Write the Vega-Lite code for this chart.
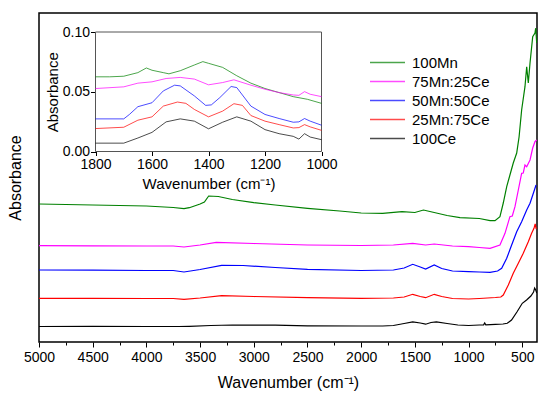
{
  "$schema": "https://vega.github.io/schema/vega-lite/v6.json",
  "width": 498,
  "height": 329,
  "autosize": "none",
  "padding": {"left": 39, "top": 13, "right": 13, "bottom": 59},
  "background": "white",
  "config": {
    "font": "Liberation Sans",
    "view": {"stroke": "black", "strokeWidth": 1.5},
    "axis": {
      "grid": false,
      "labelFontSize": 14,
      "labelColor": "black",
      "titleFontSize": 16,
      "titleFontWeight": "normal",
      "titleColor": "black",
      "tickColor": "black",
      "labelFlush": false,
      "labelOverlap": false
    },
    "legend": {
      "orient": "none",
      "legendX": 341,
      "legendY": 42,
      "padding": 0,
      "symbolType": "M-3.5,0L3.5,0",
      "symbolSize": 100,
      "symbolStrokeWidth": 1.5,
      "symbolFillColor": "transparent",
      "labelFontSize": 15,
      "labelColor": "black",
      "labelOffset": 17,
      "rowPadding": 3
    }
  },
  "datasets": {
    "main": [
      {"sample": "100Ce", "wavenumber": 5000, "absorbance": 0.155},
      {"sample": "100Ce", "wavenumber": 4500, "absorbance": 0.157},
      {"sample": "100Ce", "wavenumber": 4000, "absorbance": 0.155},
      {"sample": "100Ce", "wavenumber": 3700, "absorbance": 0.155},
      {"sample": "100Ce", "wavenumber": 3600, "absorbance": 0.157},
      {"sample": "100Ce", "wavenumber": 3400, "absorbance": 0.165},
      {"sample": "100Ce", "wavenumber": 3200, "absorbance": 0.170},
      {"sample": "100Ce", "wavenumber": 2800, "absorbance": 0.168},
      {"sample": "100Ce", "wavenumber": 2500, "absorbance": 0.162},
      {"sample": "100Ce", "wavenumber": 2000, "absorbance": 0.160},
      {"sample": "100Ce", "wavenumber": 1800, "absorbance": 0.160},
      {"sample": "100Ce", "wavenumber": 1700, "absorbance": 0.165},
      {"sample": "100Ce", "wavenumber": 1600, "absorbance": 0.185},
      {"sample": "100Ce", "wavenumber": 1520, "absorbance": 0.202},
      {"sample": "100Ce", "wavenumber": 1450, "absorbance": 0.190},
      {"sample": "100Ce", "wavenumber": 1400, "absorbance": 0.178},
      {"sample": "100Ce", "wavenumber": 1350, "absorbance": 0.195},
      {"sample": "100Ce", "wavenumber": 1300, "absorbance": 0.202},
      {"sample": "100Ce", "wavenumber": 1200, "absorbance": 0.185},
      {"sample": "100Ce", "wavenumber": 1100, "absorbance": 0.170},
      {"sample": "100Ce", "wavenumber": 1000, "absorbance": 0.165},
      {"sample": "100Ce", "wavenumber": 900, "absorbance": 0.170},
      {"sample": "100Ce", "wavenumber": 860, "absorbance": 0.172},
      {"sample": "100Ce", "wavenumber": 850, "absorbance": 0.190},
      {"sample": "100Ce", "wavenumber": 840, "absorbance": 0.172},
      {"sample": "100Ce", "wavenumber": 750, "absorbance": 0.177},
      {"sample": "100Ce", "wavenumber": 680, "absorbance": 0.180},
      {"sample": "100Ce", "wavenumber": 640, "absorbance": 0.187},
      {"sample": "100Ce", "wavenumber": 600, "absorbance": 0.220},
      {"sample": "100Ce", "wavenumber": 550, "absorbance": 0.300},
      {"sample": "100Ce", "wavenumber": 500, "absorbance": 0.387},
      {"sample": "100Ce", "wavenumber": 460, "absorbance": 0.420},
      {"sample": "100Ce", "wavenumber": 420, "absorbance": 0.460},
      {"sample": "100Ce", "wavenumber": 395, "absorbance": 0.500},
      {"sample": "100Ce", "wavenumber": 385, "absorbance": 0.540},
      {"sample": "100Ce", "wavenumber": 375, "absorbance": 0.520},
      {"sample": "100Ce", "wavenumber": 365, "absorbance": 0.490},

      {"sample": "25Mn:75Ce", "wavenumber": 5000, "absorbance": 0.437},
      {"sample": "25Mn:75Ce", "wavenumber": 4500, "absorbance": 0.437},
      {"sample": "25Mn:75Ce", "wavenumber": 4000, "absorbance": 0.435},
      {"sample": "25Mn:75Ce", "wavenumber": 3750, "absorbance": 0.435},
      {"sample": "25Mn:75Ce", "wavenumber": 3650, "absorbance": 0.427},
      {"sample": "25Mn:75Ce", "wavenumber": 3500, "absorbance": 0.440},
      {"sample": "25Mn:75Ce", "wavenumber": 3300, "absorbance": 0.463},
      {"sample": "25Mn:75Ce", "wavenumber": 3000, "absorbance": 0.455},
      {"sample": "25Mn:75Ce", "wavenumber": 2500, "absorbance": 0.443},
      {"sample": "25Mn:75Ce", "wavenumber": 2000, "absorbance": 0.437},
      {"sample": "25Mn:75Ce", "wavenumber": 1700, "absorbance": 0.440},
      {"sample": "25Mn:75Ce", "wavenumber": 1600, "absorbance": 0.450},
      {"sample": "25Mn:75Ce", "wavenumber": 1520, "absorbance": 0.477},
      {"sample": "25Mn:75Ce", "wavenumber": 1450, "absorbance": 0.455},
      {"sample": "25Mn:75Ce", "wavenumber": 1400, "absorbance": 0.443},
      {"sample": "25Mn:75Ce", "wavenumber": 1320, "absorbance": 0.477},
      {"sample": "25Mn:75Ce", "wavenumber": 1250, "absorbance": 0.455},
      {"sample": "25Mn:75Ce", "wavenumber": 1150, "absorbance": 0.435},
      {"sample": "25Mn:75Ce", "wavenumber": 1000, "absorbance": 0.430},
      {"sample": "25Mn:75Ce", "wavenumber": 900, "absorbance": 0.435},
      {"sample": "25Mn:75Ce", "wavenumber": 750, "absorbance": 0.445},
      {"sample": "25Mn:75Ce", "wavenumber": 700, "absorbance": 0.450},
      {"sample": "25Mn:75Ce", "wavenumber": 677, "absorbance": 0.470},
      {"sample": "25Mn:75Ce", "wavenumber": 630, "absorbance": 0.570},
      {"sample": "25Mn:75Ce", "wavenumber": 584, "absorbance": 0.687},
      {"sample": "25Mn:75Ce", "wavenumber": 537, "absorbance": 0.787},
      {"sample": "25Mn:75Ce", "wavenumber": 491, "absorbance": 0.887},
      {"sample": "25Mn:75Ce", "wavenumber": 444, "absorbance": 1.003},
      {"sample": "25Mn:75Ce", "wavenumber": 413, "absorbance": 1.087},
      {"sample": "25Mn:75Ce", "wavenumber": 391, "absorbance": 1.137},
      {"sample": "25Mn:75Ce", "wavenumber": 380, "absorbance": 1.180},
      {"sample": "25Mn:75Ce", "wavenumber": 370, "absorbance": 1.130},

      {"sample": "50Mn:50Ce", "wavenumber": 5000, "absorbance": 0.720},
      {"sample": "50Mn:50Ce", "wavenumber": 4500, "absorbance": 0.718},
      {"sample": "50Mn:50Ce", "wavenumber": 4000, "absorbance": 0.715},
      {"sample": "50Mn:50Ce", "wavenumber": 3750, "absorbance": 0.715},
      {"sample": "50Mn:50Ce", "wavenumber": 3650, "absorbance": 0.700},
      {"sample": "50Mn:50Ce", "wavenumber": 3500, "absorbance": 0.725},
      {"sample": "50Mn:50Ce", "wavenumber": 3300, "absorbance": 0.767},
      {"sample": "50Mn:50Ce", "wavenumber": 3100, "absorbance": 0.765},
      {"sample": "50Mn:50Ce", "wavenumber": 2800, "absorbance": 0.745},
      {"sample": "50Mn:50Ce", "wavenumber": 2500, "absorbance": 0.727},
      {"sample": "50Mn:50Ce", "wavenumber": 2000, "absorbance": 0.715},
      {"sample": "50Mn:50Ce", "wavenumber": 1700, "absorbance": 0.720},
      {"sample": "50Mn:50Ce", "wavenumber": 1600, "absorbance": 0.740},
      {"sample": "50Mn:50Ce", "wavenumber": 1520, "absorbance": 0.777},
      {"sample": "50Mn:50Ce", "wavenumber": 1450, "absorbance": 0.750},
      {"sample": "50Mn:50Ce", "wavenumber": 1400, "absorbance": 0.730},
      {"sample": "50Mn:50Ce", "wavenumber": 1320, "absorbance": 0.770},
      {"sample": "50Mn:50Ce", "wavenumber": 1250, "absorbance": 0.735},
      {"sample": "50Mn:50Ce", "wavenumber": 1150, "absorbance": 0.710},
      {"sample": "50Mn:50Ce", "wavenumber": 1000, "absorbance": 0.703},
      {"sample": "50Mn:50Ce", "wavenumber": 900, "absorbance": 0.700},
      {"sample": "50Mn:50Ce", "wavenumber": 800, "absorbance": 0.697},
      {"sample": "50Mn:50Ce", "wavenumber": 730, "absorbance": 0.710},
      {"sample": "50Mn:50Ce", "wavenumber": 692, "absorbance": 0.737},
      {"sample": "50Mn:50Ce", "wavenumber": 645, "absorbance": 0.837},
      {"sample": "50Mn:50Ce", "wavenumber": 599, "absorbance": 0.970},
      {"sample": "50Mn:50Ce", "wavenumber": 552, "absorbance": 1.103},
      {"sample": "50Mn:50Ce", "wavenumber": 506, "absorbance": 1.203},
      {"sample": "50Mn:50Ce", "wavenumber": 459, "absorbance": 1.320},
      {"sample": "50Mn:50Ce", "wavenumber": 428, "absorbance": 1.387},
      {"sample": "50Mn:50Ce", "wavenumber": 397, "absorbance": 1.487},
      {"sample": "50Mn:50Ce", "wavenumber": 372, "absorbance": 1.570},

      {"sample": "75Mn:25Ce", "wavenumber": 5000, "absorbance": 0.963},
      {"sample": "75Mn:25Ce", "wavenumber": 4500, "absorbance": 0.962},
      {"sample": "75Mn:25Ce", "wavenumber": 4000, "absorbance": 0.960},
      {"sample": "75Mn:25Ce", "wavenumber": 3750, "absorbance": 0.960},
      {"sample": "75Mn:25Ce", "wavenumber": 3650, "absorbance": 0.950},
      {"sample": "75Mn:25Ce", "wavenumber": 3500, "absorbance": 0.970},
      {"sample": "75Mn:25Ce", "wavenumber": 3350, "absorbance": 0.997},
      {"sample": "75Mn:25Ce", "wavenumber": 3000, "absorbance": 0.985},
      {"sample": "75Mn:25Ce", "wavenumber": 2500, "absorbance": 0.970},
      {"sample": "75Mn:25Ce", "wavenumber": 2000, "absorbance": 0.965},
      {"sample": "75Mn:25Ce", "wavenumber": 1700, "absorbance": 0.970},
      {"sample": "75Mn:25Ce", "wavenumber": 1520, "absorbance": 0.987},
      {"sample": "75Mn:25Ce", "wavenumber": 1400, "absorbance": 0.970},
      {"sample": "75Mn:25Ce", "wavenumber": 1320, "absorbance": 0.980},
      {"sample": "75Mn:25Ce", "wavenumber": 1150, "absorbance": 0.960},
      {"sample": "75Mn:25Ce", "wavenumber": 1000, "absorbance": 0.953},
      {"sample": "75Mn:25Ce", "wavenumber": 900, "absorbance": 0.945},
      {"sample": "75Mn:25Ce", "wavenumber": 800, "absorbance": 0.937},
      {"sample": "75Mn:25Ce", "wavenumber": 708, "absorbance": 0.970},
      {"sample": "75Mn:25Ce", "wavenumber": 661, "absorbance": 1.087},
      {"sample": "75Mn:25Ce", "wavenumber": 615, "absorbance": 1.253},
      {"sample": "75Mn:25Ce", "wavenumber": 593, "absorbance": 1.260},
      {"sample": "75Mn:25Ce", "wavenumber": 568, "absorbance": 1.353},
      {"sample": "75Mn:25Ce", "wavenumber": 537, "absorbance": 1.520},
      {"sample": "75Mn:25Ce", "wavenumber": 506, "absorbance": 1.687},
      {"sample": "75Mn:25Ce", "wavenumber": 491, "absorbance": 1.690},
      {"sample": "75Mn:25Ce", "wavenumber": 475, "absorbance": 1.770},
      {"sample": "75Mn:25Ce", "wavenumber": 459, "absorbance": 1.753},
      {"sample": "75Mn:25Ce", "wavenumber": 428, "absorbance": 1.820},
      {"sample": "75Mn:25Ce", "wavenumber": 403, "absorbance": 1.940},
      {"sample": "75Mn:25Ce", "wavenumber": 382, "absorbance": 2.003},
      {"sample": "75Mn:25Ce", "wavenumber": 366, "absorbance": 2.020},

      {"sample": "100Mn", "wavenumber": 5000, "absorbance": 1.380},
      {"sample": "100Mn", "wavenumber": 4500, "absorbance": 1.370},
      {"sample": "100Mn", "wavenumber": 4000, "absorbance": 1.360},
      {"sample": "100Mn", "wavenumber": 3750, "absorbance": 1.345},
      {"sample": "100Mn", "wavenumber": 3650, "absorbance": 1.333},
      {"sample": "100Mn", "wavenumber": 3600, "absorbance": 1.343},
      {"sample": "100Mn", "wavenumber": 3500, "absorbance": 1.380},
      {"sample": "100Mn", "wavenumber": 3460, "absorbance": 1.400},
      {"sample": "100Mn", "wavenumber": 3420, "absorbance": 1.460},
      {"sample": "100Mn", "wavenumber": 3330, "absorbance": 1.455},
      {"sample": "100Mn", "wavenumber": 3200, "absorbance": 1.425},
      {"sample": "100Mn", "wavenumber": 3000, "absorbance": 1.393},
      {"sample": "100Mn", "wavenumber": 2800, "absorbance": 1.370},
      {"sample": "100Mn", "wavenumber": 2500, "absorbance": 1.337},
      {"sample": "100Mn", "wavenumber": 2200, "absorbance": 1.310},
      {"sample": "100Mn", "wavenumber": 2000, "absorbance": 1.290},
      {"sample": "100Mn", "wavenumber": 1800, "absorbance": 1.287},
      {"sample": "100Mn", "wavenumber": 1620, "absorbance": 1.303},
      {"sample": "100Mn", "wavenumber": 1500, "absorbance": 1.295},
      {"sample": "100Mn", "wavenumber": 1420, "absorbance": 1.320},
      {"sample": "100Mn", "wavenumber": 1300, "absorbance": 1.290},
      {"sample": "100Mn", "wavenumber": 1200, "absorbance": 1.265},
      {"sample": "100Mn", "wavenumber": 1080, "absorbance": 1.243},
      {"sample": "100Mn", "wavenumber": 900, "absorbance": 1.235},
      {"sample": "100Mn", "wavenumber": 800, "absorbance": 1.213},
      {"sample": "100Mn", "wavenumber": 754, "absorbance": 1.213},
      {"sample": "100Mn", "wavenumber": 708, "absorbance": 1.253},
      {"sample": "100Mn", "wavenumber": 677, "absorbance": 1.390},
      {"sample": "100Mn", "wavenumber": 645, "absorbance": 1.553},
      {"sample": "100Mn", "wavenumber": 615, "absorbance": 1.670},
      {"sample": "100Mn", "wavenumber": 584, "absorbance": 1.790},
      {"sample": "100Mn", "wavenumber": 552, "absorbance": 1.890},
      {"sample": "100Mn", "wavenumber": 530, "absorbance": 2.050},
      {"sample": "100Mn", "wavenumber": 506, "absorbance": 2.320},
      {"sample": "100Mn", "wavenumber": 475, "absorbance": 2.553},
      {"sample": "100Mn", "wavenumber": 459, "absorbance": 2.753},
      {"sample": "100Mn", "wavenumber": 444, "absorbance": 2.590},
      {"sample": "100Mn", "wavenumber": 428, "absorbance": 2.790},
      {"sample": "100Mn", "wavenumber": 403, "absorbance": 3.053},
      {"sample": "100Mn", "wavenumber": 382, "absorbance": 3.090},
      {"sample": "100Mn", "wavenumber": 375, "absorbance": 3.140},
      {"sample": "100Mn", "wavenumber": 366, "absorbance": 2.990}
    ],
    "inset": [
      {"sample": "100Mn", "wavenumber": 1800, "absorbance": 0.0625},
      {"sample": "100Mn", "wavenumber": 1750, "absorbance": 0.0625},
      {"sample": "100Mn", "wavenumber": 1700, "absorbance": 0.0630},
      {"sample": "100Mn", "wavenumber": 1650, "absorbance": 0.0660},
      {"sample": "100Mn", "wavenumber": 1620, "absorbance": 0.0699},
      {"sample": "100Mn", "wavenumber": 1600, "absorbance": 0.0680},
      {"sample": "100Mn", "wavenumber": 1560, "absorbance": 0.0660},
      {"sample": "100Mn", "wavenumber": 1540, "absorbance": 0.0650},
      {"sample": "100Mn", "wavenumber": 1500, "absorbance": 0.0676},
      {"sample": "100Mn", "wavenumber": 1450, "absorbance": 0.0724},
      {"sample": "100Mn", "wavenumber": 1420, "absorbance": 0.0752},
      {"sample": "100Mn", "wavenumber": 1400, "absorbance": 0.0738},
      {"sample": "100Mn", "wavenumber": 1350, "absorbance": 0.0704},
      {"sample": "100Mn", "wavenumber": 1300, "absorbance": 0.0634},
      {"sample": "100Mn", "wavenumber": 1250, "absorbance": 0.0572},
      {"sample": "100Mn", "wavenumber": 1200, "absorbance": 0.0527},
      {"sample": "100Mn", "wavenumber": 1150, "absorbance": 0.0493},
      {"sample": "100Mn", "wavenumber": 1100, "absorbance": 0.0459},
      {"sample": "100Mn", "wavenumber": 1050, "absorbance": 0.0437},
      {"sample": "100Mn", "wavenumber": 1000, "absorbance": 0.0403},

      {"sample": "75Mn:25Ce", "wavenumber": 1800, "absorbance": 0.0527},
      {"sample": "75Mn:25Ce", "wavenumber": 1700, "absorbance": 0.0541},
      {"sample": "75Mn:25Ce", "wavenumber": 1650, "absorbance": 0.0572},
      {"sample": "75Mn:25Ce", "wavenumber": 1600, "absorbance": 0.0583},
      {"sample": "75Mn:25Ce", "wavenumber": 1550, "absorbance": 0.0611},
      {"sample": "75Mn:25Ce", "wavenumber": 1500, "absorbance": 0.0620},
      {"sample": "75Mn:25Ce", "wavenumber": 1450, "absorbance": 0.0606},
      {"sample": "75Mn:25Ce", "wavenumber": 1400, "absorbance": 0.0558},
      {"sample": "75Mn:25Ce", "wavenumber": 1350, "absorbance": 0.0577},
      {"sample": "75Mn:25Ce", "wavenumber": 1310, "absorbance": 0.0600},
      {"sample": "75Mn:25Ce", "wavenumber": 1250, "absorbance": 0.0555},
      {"sample": "75Mn:25Ce", "wavenumber": 1200, "absorbance": 0.0521},
      {"sample": "75Mn:25Ce", "wavenumber": 1150, "absorbance": 0.0493},
      {"sample": "75Mn:25Ce", "wavenumber": 1100, "absorbance": 0.0473},
      {"sample": "75Mn:25Ce", "wavenumber": 1080, "absorbance": 0.0470},
      {"sample": "75Mn:25Ce", "wavenumber": 1060, "absorbance": 0.0501},
      {"sample": "75Mn:25Ce", "wavenumber": 1040, "absorbance": 0.0479},
      {"sample": "75Mn:25Ce", "wavenumber": 1000, "absorbance": 0.0459},

      {"sample": "50Mn:50Ce", "wavenumber": 1800, "absorbance": 0.0273},
      {"sample": "50Mn:50Ce", "wavenumber": 1700, "absorbance": 0.0273},
      {"sample": "50Mn:50Ce", "wavenumber": 1680, "absorbance": 0.0310},
      {"sample": "50Mn:50Ce", "wavenumber": 1650, "absorbance": 0.0375},
      {"sample": "50Mn:50Ce", "wavenumber": 1600, "absorbance": 0.0408},
      {"sample": "50Mn:50Ce", "wavenumber": 1560, "absorbance": 0.0507},
      {"sample": "50Mn:50Ce", "wavenumber": 1520, "absorbance": 0.0555},
      {"sample": "50Mn:50Ce", "wavenumber": 1500, "absorbance": 0.0549},
      {"sample": "50Mn:50Ce", "wavenumber": 1450, "absorbance": 0.0465},
      {"sample": "50Mn:50Ce", "wavenumber": 1410, "absorbance": 0.0386},
      {"sample": "50Mn:50Ce", "wavenumber": 1390, "absorbance": 0.0390},
      {"sample": "50Mn:50Ce", "wavenumber": 1360, "absorbance": 0.0451},
      {"sample": "50Mn:50Ce", "wavenumber": 1320, "absorbance": 0.0544},
      {"sample": "50Mn:50Ce", "wavenumber": 1300, "absorbance": 0.0535},
      {"sample": "50Mn:50Ce", "wavenumber": 1250, "absorbance": 0.0380},
      {"sample": "50Mn:50Ce", "wavenumber": 1200, "absorbance": 0.0310},
      {"sample": "50Mn:50Ce", "wavenumber": 1150, "absorbance": 0.0276},
      {"sample": "50Mn:50Ce", "wavenumber": 1100, "absorbance": 0.0245},
      {"sample": "50Mn:50Ce", "wavenumber": 1080, "absorbance": 0.0248},
      {"sample": "50Mn:50Ce", "wavenumber": 1060, "absorbance": 0.0276},
      {"sample": "50Mn:50Ce", "wavenumber": 1040, "absorbance": 0.0254},
      {"sample": "50Mn:50Ce", "wavenumber": 1000, "absorbance": 0.0220},

      {"sample": "25Mn:75Ce", "wavenumber": 1800, "absorbance": 0.0192},
      {"sample": "25Mn:75Ce", "wavenumber": 1700, "absorbance": 0.0203},
      {"sample": "25Mn:75Ce", "wavenumber": 1650, "absorbance": 0.0262},
      {"sample": "25Mn:75Ce", "wavenumber": 1600, "absorbance": 0.0290},
      {"sample": "25Mn:75Ce", "wavenumber": 1560, "absorbance": 0.0380},
      {"sample": "25Mn:75Ce", "wavenumber": 1510, "absorbance": 0.0414},
      {"sample": "25Mn:75Ce", "wavenumber": 1480, "absorbance": 0.0403},
      {"sample": "25Mn:75Ce", "wavenumber": 1450, "absorbance": 0.0352},
      {"sample": "25Mn:75Ce", "wavenumber": 1400, "absorbance": 0.0290},
      {"sample": "25Mn:75Ce", "wavenumber": 1350, "absorbance": 0.0338},
      {"sample": "25Mn:75Ce", "wavenumber": 1310, "absorbance": 0.0400},
      {"sample": "25Mn:75Ce", "wavenumber": 1280, "absorbance": 0.0386},
      {"sample": "25Mn:75Ce", "wavenumber": 1250, "absorbance": 0.0301},
      {"sample": "25Mn:75Ce", "wavenumber": 1200, "absorbance": 0.0254},
      {"sample": "25Mn:75Ce", "wavenumber": 1150, "absorbance": 0.0225},
      {"sample": "25Mn:75Ce", "wavenumber": 1100, "absorbance": 0.0197},
      {"sample": "25Mn:75Ce", "wavenumber": 1080, "absorbance": 0.0200},
      {"sample": "25Mn:75Ce", "wavenumber": 1060, "absorbance": 0.0225},
      {"sample": "25Mn:75Ce", "wavenumber": 1040, "absorbance": 0.0206},
      {"sample": "25Mn:75Ce", "wavenumber": 1000, "absorbance": 0.0177},

      {"sample": "100Ce", "wavenumber": 1800, "absorbance": 0.0070},
      {"sample": "100Ce", "wavenumber": 1700, "absorbance": 0.0070},
      {"sample": "100Ce", "wavenumber": 1650, "absorbance": 0.0113},
      {"sample": "100Ce", "wavenumber": 1600, "absorbance": 0.0160},
      {"sample": "100Ce", "wavenumber": 1550, "absorbance": 0.0248},
      {"sample": "100Ce", "wavenumber": 1500, "absorbance": 0.0273},
      {"sample": "100Ce", "wavenumber": 1450, "absorbance": 0.0254},
      {"sample": "100Ce", "wavenumber": 1400, "absorbance": 0.0190},
      {"sample": "100Ce", "wavenumber": 1350, "absorbance": 0.0245},
      {"sample": "100Ce", "wavenumber": 1300, "absorbance": 0.0290},
      {"sample": "100Ce", "wavenumber": 1250, "absorbance": 0.0254},
      {"sample": "100Ce", "wavenumber": 1200, "absorbance": 0.0183},
      {"sample": "100Ce", "wavenumber": 1150, "absorbance": 0.0149},
      {"sample": "100Ce", "wavenumber": 1100, "absorbance": 0.0127},
      {"sample": "100Ce", "wavenumber": 1080, "absorbance": 0.0104},
      {"sample": "100Ce", "wavenumber": 1060, "absorbance": 0.0149},
      {"sample": "100Ce", "wavenumber": 1040, "absorbance": 0.0121},
      {"sample": "100Ce", "wavenumber": 1000, "absorbance": 0.0099}
    ],
    "insetFrame": [
      {"wavenumber": 1800, "wavenumber_end": 1000, "absorbance": 0, "absorbance_end": 0.1}
    ]
  },
  "layer": [
    {
      "data": {"name": "main"},
      "mark": {"type": "line", "strokeWidth": 1.2, "clip": true},
      "encoding": {
        "x": {
          "field": "wavenumber",
          "type": "quantitative",
          "scale": {"domain": [363, 5000], "reverse": true, "nice": false, "zero": false},
          "axis": {
            "orient": "bottom",
            "title": "Wavenumber (cm⁻¹)",
            "values": [5000, 4750, 4500, 4250, 4000, 3750, 3500, 3250, 3000, 2750, 2500, 2250, 2000, 1750, 1500, 1250, 1000, 750, 500],
            "labelExpr": "datum.value % 500 === 0 ? datum.label : ''",
            "format": "d",
            "tickSize": {"condition": {"test": "datum.value % 500 === 0", "value": 5}, "value": 3},
            "domain": false,
            "labelPadding": 3,
            "titlePadding": 10
          }
        },
        "y": {
          "field": "absorbance",
          "type": "quantitative",
          "scale": {"domain": [0, 3.29], "nice": false, "zero": false},
          "axis": {"orient": "left", "title": "Absorbance", "labels": false, "ticks": false, "domain": false, "titlePadding": 16}
        },
        "color": {
          "field": "sample",
          "type": "nominal",
          "scale": {
            "domain": ["100Mn", "75Mn:25Ce", "50Mn:50Ce", "25Mn:75Ce", "100Ce"],
            "range": ["#008000", "#ff00ff", "#0000ff", "#ff0000", "#000000"]
          },
          "legend": {"title": null}
        }
      }
    },
    {
      "layer": [
        {
          "data": {"name": "insetFrame"},
          "mark": {"type": "rect", "fill": "white", "stroke": "#555555", "strokeWidth": 1},
          "encoding": {
            "x": {"field": "wavenumber", "type": "quantitative"},
            "x2": {"field": "wavenumber_end"},
            "y": {"field": "absorbance", "type": "quantitative"},
            "y2": {"field": "absorbance_end"}
          }
        },
        {
          "data": {"name": "inset"},
          "mark": {"type": "line", "strokeWidth": 1, "opacity": 0.7},
          "encoding": {
            "x": {
              "field": "wavenumber",
              "type": "quantitative",
              "scale": {"domain": [237.2, 2000], "reverse": true, "nice": false, "zero": false},
              "axis": {
                "orient": "bottom",
                "title": "Wavenumber (cm⁻¹)",
                "titleFontSize": 15,
                "values": [1800, 1700, 1600, 1500, 1400, 1300, 1200, 1100, 1000],
                "labelExpr": "datum.value % 200 === 0 ? datum.label : ''",
                "format": "d",
                "tickSize": {"condition": {"test": "datum.value % 200 === 0", "value": 4}, "value": -3},
                "domain": false,
                "offset": -190.5,
                "labelPadding": 2,
                "titleX": 169.5,
                "titleY": 31.5,
                "titleBaseline": "middle"
              }
            },
            "y": {
              "field": "absorbance",
              "type": "quantitative",
              "scale": {"domain": [-0.1594, 0.1159], "nice": false, "zero": false},
              "axis": {
                "orient": "left",
                "title": "Absorbance",
                "titleFontSize": 15,
                "values": [0, 0.05, 0.1],
                "format": ".2f",
                "tickSize": 5,
                "domain": false,
                "offset": -56.5,
                "labelPadding": 1,
                "titleX": -43.5,
                "titleY": 78.75,
                "titleBaseline": "middle"
              }
            },
            "color": {"field": "sample", "type": "nominal"}
          }
        }
      ]
    }
  ],
  "resolve": {"scale": {"x": "independent", "y": "independent"}}
}
